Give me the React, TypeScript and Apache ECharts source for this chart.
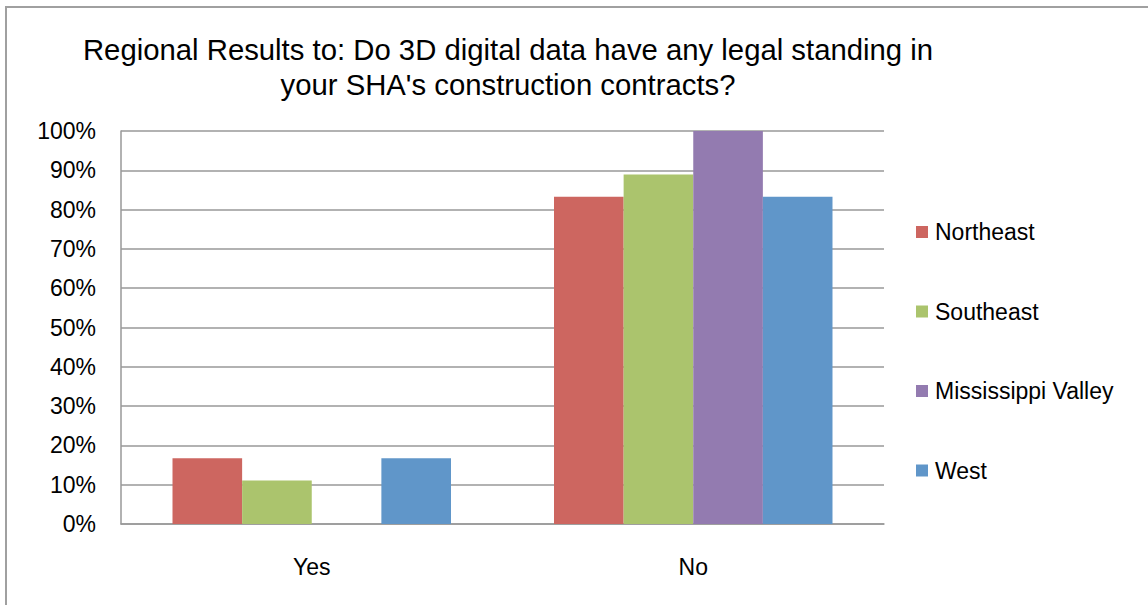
import React, { useEffect, useRef } from "react";
import * as echarts from "echarts";

const categories = ["Yes", "No"];
const seriesNames = ["Northeast", "Southeast", "Mississippi Valley", "West"];
const northeast = [16.7, 83.3];
const southeast = [11.1, 88.9];
const mississippiValley = [0, 100];
const west = [16.7, 83.3];
const colors = ["#CD6660", "#ABC46D", "#937BB0", "#6096C9"];
const titleText =
  "Regional Results to: Do 3D digital data have any legal standing in\nyour SHA's construction contracts?";

export default function App() {
  const ref = useRef<HTMLDivElement>(null);
  useEffect(() => {
    document.body.style.margin = "0";
    const chart = echarts.init(ref.current!, null, { renderer: "svg" });
    const values = [northeast, southeast, mississippiValley, west];
    chart.setOption({
      animation: false,
      textStyle: { fontFamily: "Liberation Sans, Arial, sans-serif" },
      title: {
        text: titleText,
        left: 503,
        top: 27,
        textAlign: "center",
        textStyle: {
          fontSize: 29.3,
          fontWeight: "normal",
          color: "#000",
          lineHeight: 35,
          fontFamily: "Liberation Sans, Arial, sans-serif",
        },
      },
      graphic: [
        {
          type: "rect",
          shape: { x: 6, y: 7, width: 1200, height: 700 },
          style: { fill: "none", stroke: "#a0a0a0", lineWidth: 2 },
          silent: true,
        },
      ],
      legend: {
        orient: "vertical",
        left: 911,
        top: 215,
        itemWidth: 12,
        itemHeight: 12,
        itemGap: 55.5,
        icon: "rect",
        textStyle: { fontSize: 23, color: "#000", lineHeight: 24, padding: [0, 0, 0, 2] },
        data: seriesNames,
      },
      grid: { left: 121, right: 264, top: 131, bottom: 81, containLabel: false },
      xAxis: {
        type: "category",
        data: categories,
        axisLine: { lineStyle: { color: "#999", width: 1.5 } },
        axisTick: { show: false },
        axisLabel: { fontSize: 23, color: "#000", margin: 31 },
      },
      yAxis: {
        type: "value",
        min: 0,
        max: 100,
        interval: 10,
        axisLine: { show: true, lineStyle: { color: "#999", width: 1.5 } },
        axisTick: { show: false },
        splitLine: { lineStyle: { color: "#999", width: 1.5 } },
        axisLabel: { fontSize: 23, color: "#000", margin: 25, formatter: "{value}%" },
      },
      series: seriesNames.map((name, i) => ({
        name,
        type: "bar",
        data: values[i],
        itemStyle: { color: colors[i] },
        barGap: "0%",
        barCategoryGap: "27%",
      })),
    });
    return () => chart.dispose();
  }, []);
  return <div ref={ref} style={{ width: 1148, height: 605 }} />;
}
